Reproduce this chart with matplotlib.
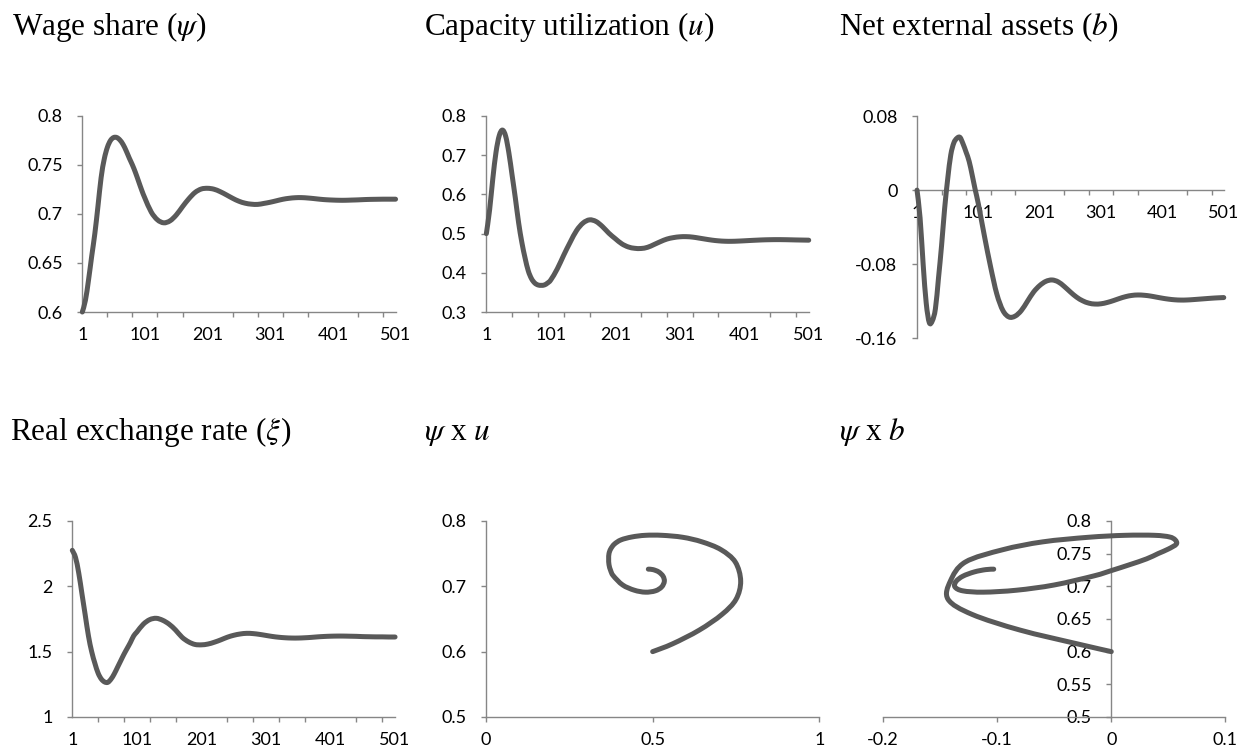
import matplotlib
matplotlib.use("Agg")
import matplotlib.pyplot as plt
from matplotlib.path import Path
from matplotlib.patches import PathPatch

# simulation step (Excel category index)
steps = [1, 6, 11, 16, 21, 26, 31, 36, 41, 46, 51, 56, 61, 66, 71, 76, 81, 86, 91, 96,
         101, 111, 121, 131, 141, 151, 161, 171, 181, 191, 201, 211, 221, 231, 241, 251,
         261, 271, 281, 291, 301, 311, 321, 331, 341, 351, 361, 371, 381, 391, 401, 411,
         421, 431, 441, 451, 461, 471, 481, 491, 501]

# wage share (psi)
wage_share = [0.6000, 0.6120, 0.6330, 0.6570, 0.6800, 0.7080, 0.7370, 0.7560, 0.7680, 0.7750,
              0.7780, 0.7780, 0.7755, 0.7710, 0.7645, 0.7570, 0.7500, 0.7420, 0.7330, 0.7240,
              0.7160, 0.7020, 0.6940, 0.6910, 0.6930, 0.6990, 0.7075, 0.7155, 0.7220, 0.7255,
              0.7262, 0.7253, 0.7228, 0.7195, 0.7160, 0.7130, 0.7110, 0.7100, 0.7098, 0.7108,
              0.7120, 0.7135, 0.7150, 0.7160, 0.7166, 0.7167, 0.7163, 0.7157, 0.7150, 0.7145,
              0.7142, 0.7140, 0.7140, 0.7142, 0.7144, 0.7147, 0.7149, 0.7150, 0.7151, 0.7151, 0.7151]

# capacity utilization (u)
capacity = [0.5000, 0.5600, 0.6400, 0.7080, 0.7500, 0.7640, 0.7480, 0.7050, 0.6480, 0.5900,
            0.5280, 0.4780, 0.4380, 0.4050, 0.3850, 0.3740, 0.3690, 0.3680, 0.3690, 0.3740,
            0.3820, 0.4100, 0.4450, 0.4780, 0.5080, 0.5270, 0.5350, 0.5310, 0.5180, 0.5010,
            0.4870, 0.4740, 0.4660, 0.4625, 0.4620, 0.4650, 0.4720, 0.4795, 0.4860, 0.4897,
            0.4918, 0.4922, 0.4910, 0.4885, 0.4858, 0.4833, 0.4815, 0.4805, 0.4803, 0.4808,
            0.4816, 0.4825, 0.4833, 0.4840, 0.4844, 0.4846, 0.4845, 0.4842, 0.4838, 0.4835, 0.4832]

# net external assets (b)
net_assets = [0.0000, -0.0300, -0.0800, -0.1220, -0.1430, -0.1410, -0.1280, -0.0950, -0.0600, -0.0200,
              0.0120, 0.0380, 0.0510, 0.0560, 0.0570, 0.0500, 0.0410, 0.0310, 0.0160, 0.0000,
              -0.0150, -0.0500, -0.0830, -0.1120, -0.1300, -0.1370, -0.1360, -0.1300, -0.1200, -0.1100,
              -0.1030, -0.0985, -0.0970, -0.0990, -0.1040, -0.1100, -0.1155, -0.1195, -0.1220, -0.1230,
              -0.1227, -0.1213, -0.1193, -0.1170, -0.1150, -0.1137, -0.1132, -0.1135, -0.1143, -0.1155,
              -0.1167, -0.1177, -0.1184, -0.1187, -0.1186, -0.1182, -0.1177, -0.1172, -0.1167, -0.1163, -0.1160]

# real exchange rate (xi)
exchange = [2.275, 2.220, 2.100, 1.940, 1.780, 1.620, 1.500, 1.410, 1.335, 1.290,
            1.268, 1.265, 1.290, 1.330, 1.380, 1.430, 1.480, 1.525, 1.570, 1.620,
            1.650, 1.710, 1.745, 1.755, 1.740, 1.710, 1.665, 1.610, 1.575, 1.555,
            1.552, 1.558, 1.572, 1.590, 1.610, 1.625, 1.635, 1.640, 1.638, 1.632,
            1.624, 1.616, 1.610, 1.606, 1.604, 1.604, 1.606, 1.609, 1.613, 1.616,
            1.618, 1.619, 1.619, 1.618, 1.617, 1.615, 1.614, 1.613, 1.613, 1.612, 1.612]

step_labels = [1, 101, 201, 301, 401, 501]
step_marks = [1, 41, 81, 121, 161, 201, 241, 281, 321, 361, 401, 441, 481]

# phase plots only use the first 201 steps
n_phase = steps.index(201) + 1

LINE = "#595959"
AXIS = "#868686"
LW = 3.6

plt.rcParams["font.family"] = "Lato"
plt.rcParams["mathtext.fontset"] = "stix"

fig = plt.figure(figsize=(12.49, 7.54), dpi=100)


def smooth_line(ax, xs, ys):
    # Excel-like smoothed line: bezier segments through the data points
    n = len(xs)
    verts = [(xs[0], ys[0])]
    codes = [Path.MOVETO]
    for i in range(n - 1):
        a = max(i - 1, 0)
        d = min(i + 2, n - 1)
        c1 = (xs[i] + (xs[i + 1] - xs[a]) / 6, ys[i] + (ys[i + 1] - ys[a]) / 6)
        c2 = (xs[i + 1] - (xs[d] - xs[i]) / 6, ys[i + 1] - (ys[d] - ys[i]) / 6)
        verts += [c1, c2, (xs[i + 1], ys[i + 1])]
        codes += [Path.CURVE4] * 3
    ax.add_patch(PathPatch(Path(verts, codes), fill=False, edgecolor=LINE, lw=LW,
                           capstyle="round", joinstyle="round", clip_on=False,
                           zorder=3))


def base(ax):
    for s in ["top", "right"]:
        ax.spines[s].set_visible(False)
    for s in ["left", "bottom"]:
        ax.spines[s].set_color(AXIS)
        ax.spines[s].set_linewidth(1.0)
    ax.tick_params(which="both", colors=AXIS, labelcolor="black", labelsize=13,
                   width=1.0, direction="out")
    ax.tick_params(axis="y", length=3.6, pad=10.5)
    ax.patch.set_alpha(0)


def time_axis(ax):
    ax.set_xlim(1, 501)
    ax.set_xticks(step_labels, [str(s) for s in step_labels])
    ax.set_xticks(step_marks, minor=True)
    ax.tick_params(axis="x", which="major", length=0, pad=11)
    ax.tick_params(axis="x", which="minor", length=3.6)


def yticks(ax, vals, labels):
    ax.set_yticks(vals, labels)
    ax.set_ylim(vals[0], vals[-1])


# Wage share
ax1 = fig.add_axes([0.0659, 0.5862, 0.2508, 0.2600])
base(ax1)
smooth_line(ax1, steps, wage_share)
time_axis(ax1)
yticks(ax1, [0.6, 0.65, 0.7, 0.75, 0.8], ["0.6", "0.65", "0.7", "0.75", "0.8"])

# Capacity utilization
ax2 = fig.add_axes([0.3894, 0.5862, 0.2581, 0.2600])
base(ax2)
smooth_line(ax2, steps, capacity)
time_axis(ax2)
yticks(ax2, [0.3, 0.4, 0.5, 0.6, 0.7, 0.8], ["0.3", "0.4", "0.5", "0.6", "0.7", "0.8"])

# Net external assets
ax3 = fig.add_axes([0.7342, 0.5513, 0.2456, 0.2948])
base(ax3)
smooth_line(ax3, steps, net_assets)
time_axis(ax3)
ax3.spines["bottom"].set_position(("data", 0))
yticks(ax3, [-0.16, -0.08, 0, 0.08], ["-0.16", "-0.08", "0", "0.08"])

# Real exchange rate
ax4 = fig.add_axes([0.0579, 0.0491, 0.2584, 0.2600])
base(ax4)
smooth_line(ax4, steps, exchange)
time_axis(ax4)
yticks(ax4, [1, 1.5, 2, 2.5], ["1", "1.5", "2", "2.5"])

# psi x u
ax5 = fig.add_axes([0.3891, 0.0491, 0.2669, 0.2600])
base(ax5)
smooth_line(ax5, capacity[:n_phase], wage_share[:n_phase])
ax5.set_xlim(0, 1)
ax5.set_xticks([0, 0.5, 1], ["0", "0.5", "1"])
ax5.tick_params(axis="x", length=3.6, pad=7.5)
yticks(ax5, [0.5, 0.6, 0.7, 0.8], ["0.5", "0.6", "0.7", "0.8"])

# psi x b
ax6 = fig.add_axes([0.7070, 0.0491, 0.2741, 0.2600])
base(ax6)
smooth_line(ax6, net_assets[:n_phase], wage_share[:n_phase])
ax6.set_xlim(-0.2, 0.1)
ax6.set_xticks([-0.2, -0.1, 0, 0.1], ["-0.2", "-0.1", "0", "0.1"])
ax6.tick_params(axis="x", length=3.6, pad=7.5)
ax6.spines["left"].set_position(("data", 0))
yticks(ax6, [0.5, 0.55, 0.6, 0.65, 0.7, 0.75, 0.8],
       ["0.5", "0.55", "0.6", "0.65", "0.7", "0.75", "0.8"])

# panel titles
title_kw = dict(fontfamily="Liberation Serif", fontsize=22.5, va="baseline", ha="left")
fig.text(11.7 / 1249, 1 - 35 / 754, r"Wage share ($\psi$)", **title_kw)
fig.text(424.3 / 1249, 1 - 35 / 754, r"Capacity utilization ($u$)", **title_kw)
fig.text(838.7 / 1249, 1 - 35 / 754, r"Net external assets ($b$)", **title_kw)
fig.text(10 / 1249, 1 - 440 / 754, r"Real exchange rate ($\xi$)", **title_kw)
fig.text(424.3 / 1249, 1 - 440 / 754, r"$\psi$ x $u$", **title_kw)
fig.text(838.7 / 1249, 1 - 440 / 754, r"$\psi$ x $b$", **title_kw)

fig.savefig("out.png", dpi=100, facecolor="white")
